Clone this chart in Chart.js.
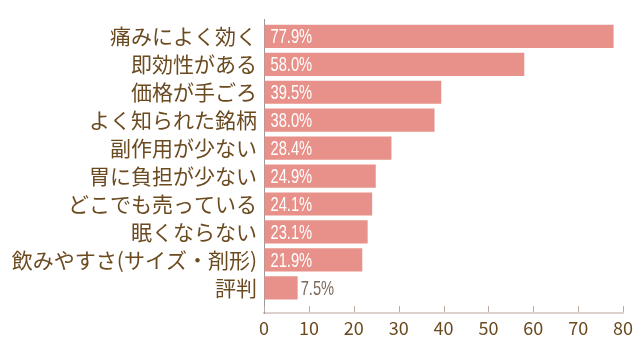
<!DOCTYPE html>
<html>
<head>
<meta charset="utf-8">
<script src="https://cdn.jsdelivr.net/npm/chart.js@4"></script>
<style>
  html, body { margin: 0; padding: 0; background: #ffffff; }
  #wrap { width: 640px; height: 346px; }
</style>
</head>
<body>
<div id="wrap"><canvas id="c" width="640" height="346"></canvas></div>
<script>
// Reasons for choosing a painkiller (%)
const categories = [
  '痛みによく効く',
  '即効性がある',
  '価格が手ごろ',
  'よく知られた銘柄',
  '副作用が少ない',
  '胃に負担が少ない',
  'どこでも売っている',
  '眠くならない',
  '飲みやすさ(サイズ・剤形)',
  '評判'
];
const shares = [77.9, 58.0, 39.5, 38.0, 28.4, 24.9, 24.1, 23.1, 21.9, 7.5];
const xTicks = [0, 10, 20, 30, 40, 50, 60, 70, 80];

const BROWN = '#6b4a20';
const BAR = '#e8918a';

// Value labels in a narrow face: inside the bar in white, outside in grey-brown for short bars
const valueLabels = {
  id: 'valueLabels',
  afterDatasetsDraw(chart) {
    const ctx = chart.ctx;
    const meta = chart.getDatasetMeta(0);
    ctx.save();
    ctx.font = '21px "Liberation Sans", sans-serif';
    ctx.textBaseline = 'middle';
    meta.data.forEach((bar, i) => {
      const txt = shares[i].toFixed(1) + '%';
      const inside = shares[i] > 15;
      const x = inside ? bar.base + 6 : bar.x + 3;
      ctx.fillStyle = inside ? '#ffffff' : '#7b6a5c';
      ctx.save();
      ctx.translate(x, bar.y + 1);
      ctx.scale(0.70, 1);
      ctx.fillText(txt, 0, 0);
      ctx.restore();
    });
    ctx.restore();
  }
};

// Short tick marks rising from the value axis
const innerTicks = {
  id: 'innerTicks',
  afterDraw(chart) {
    const ctx = chart.ctx;
    const xs = chart.scales.x;
    const bottom = chart.chartArea.bottom;
    ctx.save();
    ctx.strokeStyle = '#b8aca4';
    ctx.lineWidth = 1;
    xTicks.forEach(v => {
      const px = Math.round(xs.getPixelForValue(v)) + 0.5;
      ctx.beginPath();
      ctx.moveTo(px, bottom - 1);
      ctx.lineTo(px, bottom - 7);
      ctx.stroke();
    });
    ctx.restore();
  }
};

new Chart(document.getElementById('c'), {
  type: 'bar',
  data: {
    datasets: [{
      data: shares.map((v, i) => ({ x: v, y: i })),
      backgroundColor: BAR,
      borderWidth: 0,
      barPercentage: 0.83,
      categoryPercentage: 1
    }]
  },
  options: {
    indexAxis: 'y',
    responsive: false,
    animation: false,
    devicePixelRatio: 1,
    layout: { padding: { top: 15, right: 17, left: 0, bottom: 0 } },
    plugins: { legend: { display: false }, tooltip: { enabled: false } },
    scales: {
      x: {
        type: 'linear',
        min: 0,
        max: 80,
        afterBuildTicks: s => { s.ticks = xTicks.map(v => ({ value: v })); },
        afterFit: s => { s.height = 33; },
        grid: { display: true, drawOnChartArea: false, drawTicks: false },
        border: { display: true, color: '#dcd2cb', width: 2 },
        ticks: {
          color: BROWN,
          padding: 4,
          font: { family: '"Noto Sans CJK JP", sans-serif', size: 18 }
        }
      },
      y: {
        type: 'linear',
        reverse: true,
        offset: false,
        min: -0.6,
        max: 9.9,
        afterBuildTicks: s => { s.ticks = categories.map((_, i) => ({ value: i })); },
        afterFit: s => { s.width = 264; },
        grid: { display: false, drawTicks: false, offset: false },
        border: { display: true, color: '#9a9a9a', width: 1 },
        ticks: {
          color: BROWN,
          padding: 7,
          autoSkip: false,
          font: { family: '"Noto Sans CJK JP", sans-serif', size: 21 },
          callback: v => categories[v] ?? ''
        }
      }
    }
  },
  plugins: [valueLabels, innerTicks]
});
</script>
</body>
</html>
